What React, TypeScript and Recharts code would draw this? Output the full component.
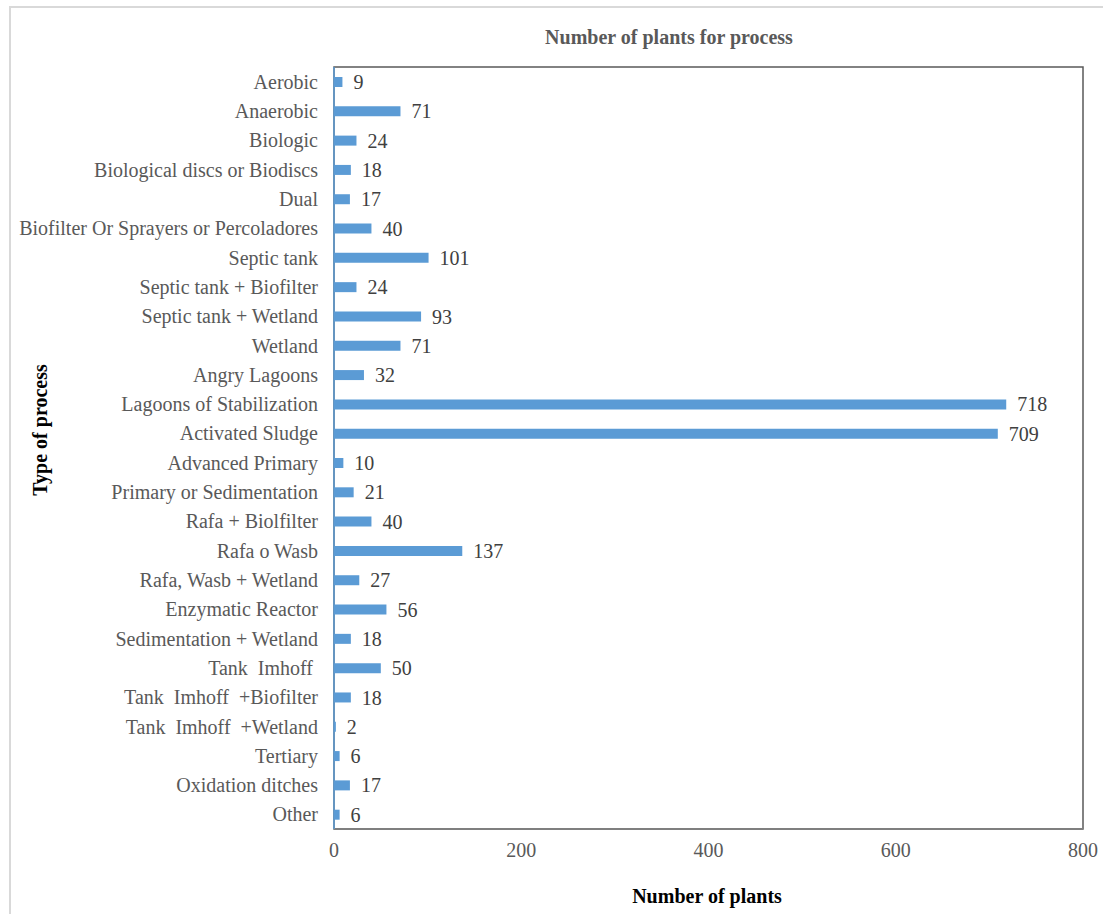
import React from "react";
import { BarChart, Bar, XAxis, YAxis, LabelList, ReferenceArea } from "recharts";

const categories = [
  "Aerobic",
  "Anaerobic",
  "Biologic",
  "Biological discs or Biodiscs",
  "Dual",
  "Biofilter Or Sprayers or Percoladores",
  "Septic tank",
  "Septic tank + Biofilter",
  "Septic tank + Wetland",
  "Wetland",
  "Angry Lagoons",
  "Lagoons of Stabilization",
  "Activated Sludge",
  "Advanced Primary",
  "Primary or Sedimentation",
  "Rafa + Biolfilter",
  "Rafa o Wasb",
  "Rafa, Wasb + Wetland",
  "Enzymatic Reactor",
  "Sedimentation + Wetland",
  "Tank\u00a0\u00a0Imhoff\u00a0",
  "Tank\u00a0\u00a0Imhoff\u00a0\u00a0+Biofilter",
  "Tank\u00a0\u00a0Imhoff\u00a0\u00a0+Wetland",
  "Tertiary",
  "Oxidation ditches",
  "Other",
];

const plants = [
  9, 71, 24, 18, 17, 40, 101, 24, 93, 71, 32, 718, 709, 10, 21, 40, 137, 27,
  56, 18, 50, 18, 2, 6, 17, 6,
];

const xTicks = [0, 200, 400, 600, 800];

const data = categories.map((name, i) => ({ name, plants: plants[i] }));

const serif = "'Liberation Serif', 'Times New Roman', serif";

export default function App() {
  return (
    <div
      style={{
        position: "absolute",
        left: 0,
        top: 0,
        width: 1103,
        height: 914,
        background: "#fff",
        fontFamily: serif,
      }}
    >
      <style>{`.recharts-wrapper text { font-family: ${serif} !important; }`}</style>
      <div
        style={{
          position: "absolute",
          left: 9,
          top: 6,
          width: 1094,
          height: 908,
          borderTop: "2px solid #d9d9d9",
          borderLeft: "2px solid #d9d9d9",
          boxSizing: "border-box",
        }}
      />
      <div
        style={{
          position: "absolute",
          left: 0,
          width: 1338,
          top: 26,
          textAlign: "center",
          fontWeight: "bold",
          fontSize: 20,
          color: "#595959",
        }}
      >
        Number of plants for process
      </div>
      <div
        style={{
          position: "absolute",
          left: 0,
          width: 1414,
          top: 885,
          textAlign: "center",
          fontWeight: "bold",
          fontSize: 20,
          color: "#000",
        }}
      >
        Number of plants
      </div>
      <div
        style={{
          position: "absolute",
          left: 40,
          top: 430,
          transform: "translate(-50%, -50%) rotate(-90deg)",
          whiteSpace: "nowrap",
          fontWeight: "bold",
          fontSize: 20,
          color: "#000",
        }}
      >
        Type of process
      </div>
      <div style={{ position: "absolute", left: 0, top: 0 }}>
        <BarChart
          width={1103}
          height={914}
          data={data}
          layout="vertical"
          margin={{ top: 67, right: 20, bottom: 55, left: 0 }}
        >
          <ReferenceArea
            x1={0}
            x2={800}
            fill="none"
            stroke="#595959"
            strokeWidth={1.5}
            ifOverflow="extendDomain"
          />
          <XAxis
            type="number"
            domain={[0, 800]}
            ticks={xTicks}
            height={30}
            tickLine={false}
            tickSize={0}
            tickMargin={14}
            axisLine={{ stroke: "#7f7f7f", strokeWidth: 2 }}
            tick={{ fill: "#595959", fontSize: 20 }}
          />
          <YAxis
            type="category"
            dataKey="name"
            width={334}
            tickLine={false}
            tickMargin={10}
            interval={0}
            axisLine={{ stroke: "#5b9bd5", strokeWidth: 1.5 }}
            tick={{ fill: "#595959", fontSize: 20 }}
          />
          <Bar
            dataKey="plants"
            fill="#5b9bd5"
            barSize={10}
            isAnimationActive={false}
          >
            <LabelList
              dataKey="plants"
              position="right"
              offset={11}
              fill="#404040"
              fontSize={20}
            />
          </Bar>
        </BarChart>
      </div>
    </div>
  );
}
